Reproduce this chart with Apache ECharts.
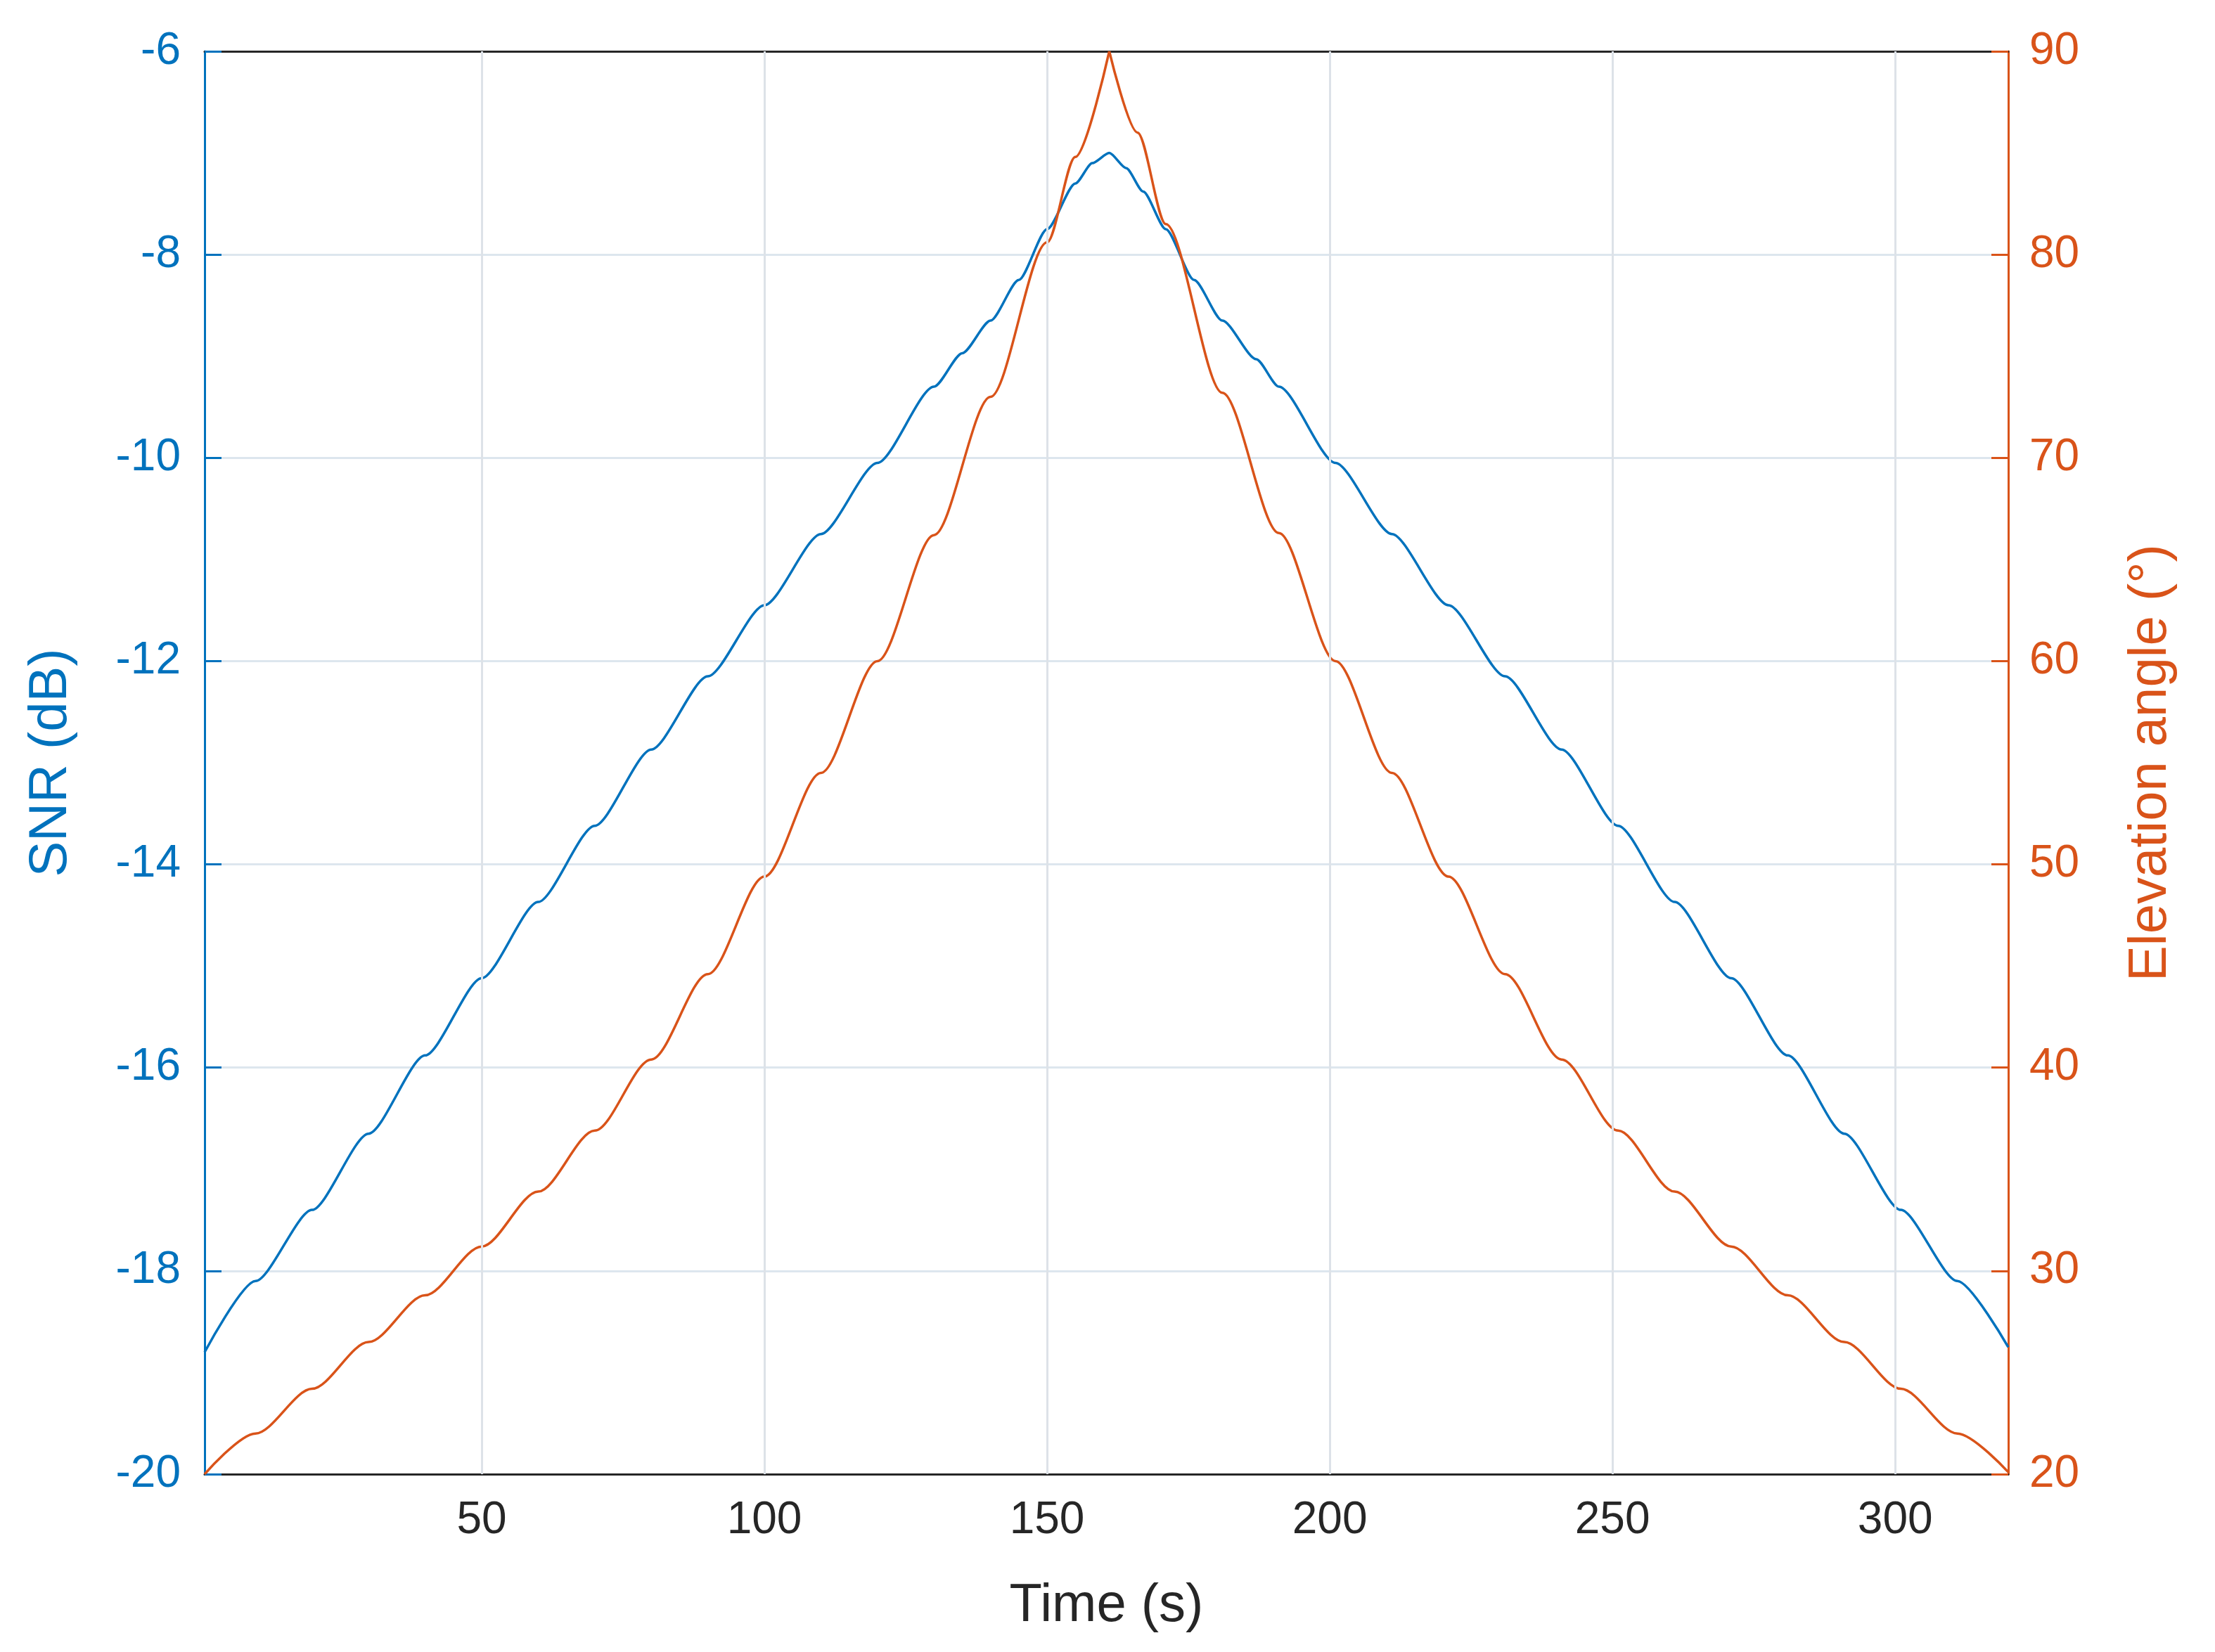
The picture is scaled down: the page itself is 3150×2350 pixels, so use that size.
<!DOCTYPE html>
<html>
<head>
<meta charset="utf-8">
<script src="https://cdn.jsdelivr.net/npm/echarts@6/dist/echarts.min.js"></script>
<style>html,body{margin:0;background:#fff}#c{width:3150px;height:2350px}</style>
</head>
<body>
<div id="c"></div>
<script>
// SNR over the pass
const snrTime = [1, 10, 20, 30, 40, 50, 60, 70, 80, 90, 100, 110, 120, 130, 135, 140, 145, 150, 155, 158, 161,
  164, 167, 171, 176, 181, 187, 191, 201, 211, 221, 231, 241, 251, 261, 271, 281, 291, 301, 311, 320];
const snrValues = [-18.8, -18.1, -17.4, -16.65, -15.88, -15.12, -14.37, -13.62, -12.87, -12.15, -11.45, -10.75, -10.05, -9.3, -8.97, -8.65, -8.25, -7.75, -7.3, -7.1, -7.0,
  -7.15, -7.38, -7.75, -8.25, -8.65, -9.03, -9.3, -10.05, -10.75, -11.45, -12.15, -12.87, -13.62, -14.37, -15.12, -15.88, -16.65, -17.4, -18.1, -18.75];
// Elevation angle over the pass, rising then setting
const elevRiseTime = [1, 10, 20, 30, 40, 50, 60, 70, 80, 90, 100, 110, 120, 130, 140, 150, 155, 161];
const elevRise = [20, 22.0, 24.2, 26.5, 28.8, 31.2, 33.9, 36.9, 40.4, 44.6, 49.4, 54.5, 60, 66.2, 73.0, 80.6, 84.8, 90];
const elevSetTime = [161, 166, 171, 181, 191, 201, 211, 221, 231, 241, 251, 261, 271, 281, 291, 301, 311, 320];
const elevSet = [90, 86.0, 81.5, 73.2, 66.3, 60, 54.5, 49.4, 44.6, 40.4, 36.9, 33.9, 31.2, 28.8, 26.5, 24.2, 22.0, 20.1];
const xTicks = [50, 100, 150, 200, 250, 300];

const BLUE = '#0072BD', ORANGE = '#D95319', DARK = '#262626';
const FONT = '"Liberation Sans", Arial, sans-serif';

const chart = echarts.init(document.getElementById('c'));
chart.setOption({
  animation: false,
  backgroundColor: '#fff',
  grid: { left: 291, right: 294, top: 73, bottom: 253 },
  xAxis: [{
    type: 'value', min: 1, max: 320,
    name: 'Time (s)', nameLocation: 'middle', nameGap: 150,
    nameTextStyle: { color: DARK, fontSize: 76, fontFamily: FONT },
    axisLine: { lineStyle: { color: DARK, width: 3 } },
    axisTick: { inside: true, length: 24, lineStyle: { color: DARK, width: 3 }, customValues: xTicks },
    axisLabel: { color: DARK, fontSize: 64, fontFamily: FONT, margin: 34, customValues: xTicks },
    splitLine: { show: false }
  }, {
    type: 'value', min: 1, max: 320, position: 'top',
    axisLine: { show: true, lineStyle: { color: DARK, width: 3 } },
    axisTick: { show: false }, axisLabel: { show: false }, splitLine: { show: false }
  }],
  yAxis: [{
    type: 'value', min: -20, max: -6, interval: 2,
    name: 'SNR (dB)', nameLocation: 'middle', nameGap: 180,
    nameTextStyle: { color: BLUE, fontSize: 76, fontFamily: FONT },
    axisLine: { show: true, lineStyle: { color: BLUE, width: 3 } },
    axisTick: { show: true, inside: true, length: 24, lineStyle: { color: BLUE, width: 3 } },
    axisLabel: { color: BLUE, fontSize: 64, fontFamily: FONT, margin: 34 },
    splitLine: { show: true, lineStyle: { color: '#dde6ee', width: 3 } }
  }, {
    type: 'value', min: 20, max: 90, interval: 10, position: 'right',
    name: 'Elevation angle (°)', nameLocation: 'middle', nameGap: 165, nameRotate: 90,
    nameTextStyle: { color: ORANGE, fontSize: 76, fontFamily: FONT },
    axisLine: { show: true, lineStyle: { color: ORANGE, width: 3 } },
    axisTick: { show: true, inside: true, length: 24, lineStyle: { color: ORANGE, width: 3 } },
    axisLabel: { color: ORANGE, fontSize: 64, fontFamily: FONT, margin: 30 },
    splitLine: { show: false }
  }],
  series: [{
    type: 'line', yAxisIndex: 0, showSymbol: false, smooth: 0.25, smoothMonotone: 'x',
    lineStyle: { color: BLUE, width: 3.5 },
    data: snrTime.map((t, i) => [t, snrValues[i]]),
    markLine: {
      silent: true, symbol: 'none', label: { show: false },
      lineStyle: { color: '#dde2e8', width: 3, type: 'solid' },
      data: xTicks.map(v => ({ xAxis: v }))
    },
    z: 3
  }, {
    type: 'line', yAxisIndex: 1, showSymbol: false, smooth: 0.3, smoothMonotone: 'x',
    lineStyle: { color: ORANGE, width: 3.5 },
    data: elevRiseTime.map((t, i) => [t, elevRise[i]]),
    z: 3
  }, {
    type: 'line', yAxisIndex: 1, showSymbol: false, smooth: 0.3, smoothMonotone: 'x',
    lineStyle: { color: ORANGE, width: 3.5 },
    data: elevSetTime.map((t, i) => [t, elevSet[i]]),
    z: 3
  }]
});
</script>
</body>
</html>
